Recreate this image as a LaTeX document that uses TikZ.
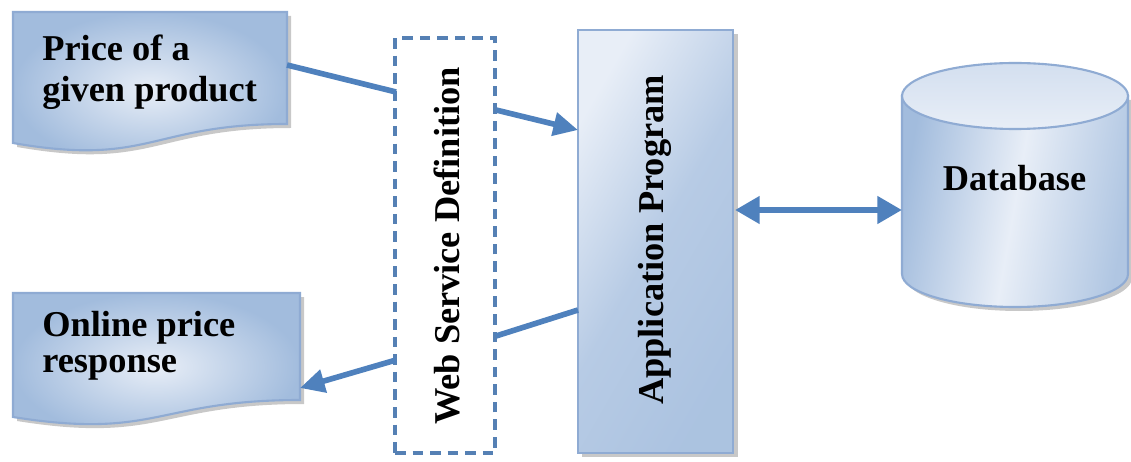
\documentclass[tikz,border=0pt]{standalone}
\usepackage{fontspec}
\setmainfont{Liberation Serif}
\usetikzlibrary{arrows.meta}

\definecolor{fillDark}{HTML}{A2BCDD}
\definecolor{fillLight}{HTML}{E8EEF7}
\definecolor{edgeBlue}{HTML}{8FABD3}
\definecolor{arrowBlue}{HTML}{4F81BD}
\definecolor{dashBlue}{HTML}{5580B4}
\definecolor{shadowGray}{HTML}{9C9C9C}

\begin{document}
\begin{tikzpicture}[x=0.02cm, y=0.02cm,
  labeltext/.style={font=\bfseries\fontsize{20.7}{21}\selectfont, inner sep=0pt, text=black},
  docshape/.style={draw=edgeBlue, line width=1.2pt, shading=radial,
    inner color=fillLight, outer color=fillDark},
  shadowshape/.style={fill=shadowGray, opacity=0.55},
  conn/.style={draw=arrowBlue, line width=3.2pt},
  tipped/.style={conn, -{Triangle[length=14pt, width=13pt]}},
  bothtipped/.style={draw=arrowBlue, line width=3.8pt,
    {Triangle[length=14pt, width=15pt]}-{Triangle[length=14pt, width=15pt]}},
  wsdbox/.style={draw=dashBlue, line width=2pt, dash pattern=on 6pt off 4pt,
    fill=white, minimum width=2cm, minimum height=8.3cm, inner sep=0pt},
  appbox/.style={draw=edgeBlue, line width=1.4pt, shading=axis,
    left color=fillLight, right color=fillDark!90, middle color=fillDark!70!fillLight,
    shading angle=60, minimum width=3.1cm, minimum height=8.46cm, inner sep=0pt}]

\useasboundingbox (0,0) rectangle (1131,-462);
\fill[white] (0,0) rectangle (1131,-462);

% ---- input document: "Price of a given product"
\fill[shadowshape] (17,-16) -- (291,-16) -- (291,-128)
  .. controls (154,-128) and (154,-171) .. (17,-147) -- cycle;
\path[docshape] (13,-12) -- (287,-12) -- (287,-124)
  .. controls (150,-124) and (150,-167) .. (13,-143) -- cycle;
\node[labeltext, anchor=north west, align=left,
  font=\bfseries\fontsize{20.7}{23}\selectfont] (price) at (42,-35)
  {Price of a\\given product};

% ---- output document: "Online price response"
\fill[shadowshape] (17,-297) -- (304,-297) -- (304,-404)
  .. controls (160.5,-404) and (160.5,-444) .. (17,-421) -- cycle;
\path[docshape] (13,-293) -- (300,-293) -- (300,-400)
  .. controls (156.5,-400) and (156.5,-440) .. (13,-417) -- cycle;
\node[labeltext, anchor=north west, align=left,
  font=\bfseries\fontsize{20.7}{20.5}\selectfont] (online) at (42,-311)
  {Online price\\response};

% ---- web service definition (dashed)
\node[wsdbox] (wsd) at (445,-245.5) {};
\node[labeltext, rotate=90] (wsdtext) at (447,-246) {Web Service Definition};

% ---- application program
\fill[shadowshape] (582,-34) rectangle (738,-457);
\node[appbox] (app) at (655.5,-241.5) {};
\node[labeltext, rotate=90, anchor=base] (apptext) at (663,-240) {Application Program};

% ---- database cylinder
\fill[shadowshape] (906,-100) -- (906,-278) arc (180:360:113 and 33) -- (1132,-100) -- cycle;
\path[draw=edgeBlue, line width=1.2pt, shading=axis, left color=fillDark,
  right color=fillDark!85, middle color=fillLight, shading angle=80]
  (902,-96) -- (902,-274) arc (180:360:113 and 33) -- (1128,-96) -- cycle;
\path[draw=edgeBlue, line width=1.2pt, top color=fillLight!70!fillDark, bottom color=fillLight]
  (1015,-96) ellipse (113 and 33);
\node[labeltext, anchor=base] (db) at (1014.5,-191) {Database};

% ---- connector attachment points
\coordinate (priceOut) at (287,-65);
\coordinate (wsdInA)   at (396,-92);
\coordinate (wsdOutA)  at (496,-110);
\coordinate (appInA)   at (578,-130);
\coordinate (appOutB)  at (578,-310);
\coordinate (wsdInB)   at (496,-336);
\coordinate (wsdOutB)  at (396,-360);
\coordinate (onlineIn) at (300,-388);
\coordinate (appSide)  at (735,-210);
\coordinate (dbSide)   at (902,-210);

% ---- connectors
\draw[conn] (priceOut) -- (wsdInA);
\draw[tipped] (wsdOutA) -- (appInA);
\draw[conn] (appOutB) -- (wsdInB);
\draw[tipped] (wsdOutB) -- (onlineIn);
\draw[bothtipped] (appSide) -- (dbSide);

\end{tikzpicture}
\end{document}
